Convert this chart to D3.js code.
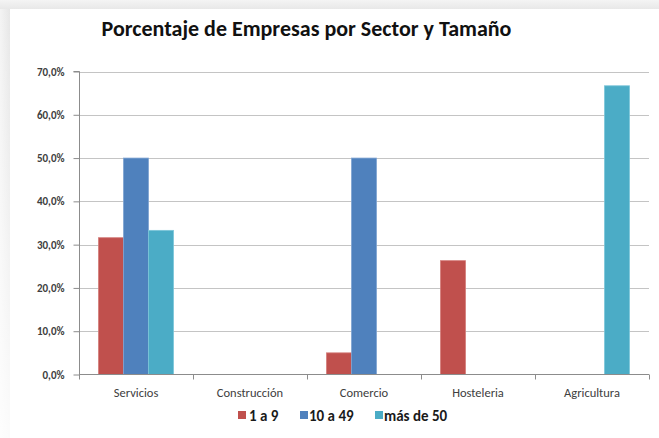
<!DOCTYPE html>
<html>
<head>
<meta charset="utf-8">
<script src="https://cdn.jsdelivr.net/npm/d3@7"></script>
<style>
  html, body { margin: 0; padding: 0; background: #fff; }
  svg { display: block; }
</style>
</head>
<body>
<svg id="chart" width="659" height="438"></svg>
<script>
// ---- Data ----
const categories = ["Servicios", "Construcción", "Comercio", "Hosteleria", "Agricultura"];
const seriesNames = ["1 a 9", "10 a 49", "más de 50"];
const values1a9 = [31.6, 0, 5.0, 26.3, 0];
const values10a49 = [50.0, 0, 50.0, 0, 0];
const valuesMas50 = [33.3, 0, 0, 0, 66.7];
const yTickValues = [0, 10, 20, 30, 40, 50, 60, 70];
const titleText = "Porcentaje de Empresas por Sector y Tamaño";

const seriesValues = [values1a9, values10a49, valuesMas50];
const colors = ["#C0504D", "#4F81BD", "#4BACC6"];
const strokes = ["#d47d7a", "#7ea3d2", "#7cc6d9"];

const svg = d3.select("#chart");
const W = 659, H = 438;
const fontFam = "Carlito, Calibri, Lato, 'Open Sans', sans-serif";

// ---- Background frame (shadow) ----
const defs = svg.append("defs");
const gL = defs.append("linearGradient").attr("id", "gl").attr("x1", 0).attr("x2", 1).attr("y1", 0).attr("y2", 0);
gL.append("stop").attr("offset", 0).attr("stop-color", "#f4f4f4");
gL.append("stop").attr("offset", 1).attr("stop-color", "#e6e6e6");
const gT = defs.append("linearGradient").attr("id", "gt").attr("x1", 0).attr("x2", 0).attr("y1", 0).attr("y2", 1);
gT.append("stop").attr("offset", 0).attr("stop-color", "#f4f4f4");
gT.append("stop").attr("offset", 1).attr("stop-color", "#e8e8e8");
const fadeV = defs.append("linearGradient").attr("id", "fv").attr("x1", 0).attr("x2", 0).attr("y1", 0).attr("y2", 1);
fadeV.append("stop").attr("offset", 0).attr("stop-color", "#fff").attr("stop-opacity", 0);
fadeV.append("stop").attr("offset", 1).attr("stop-color", "#fff").attr("stop-opacity", 0.85);

svg.append("rect").attr("x", 0).attr("y", 0).attr("width", W).attr("height", H).attr("fill", "#f6f6f6");
svg.append("rect").attr("x", 0).attr("y", 0).attr("width", 10).attr("height", H).attr("fill", "url(#gl)");
svg.append("rect").attr("x", 0).attr("y", 0).attr("width", W).attr("height", 9).attr("fill", "url(#gt)");
svg.append("rect").attr("x", 0).attr("y", 0).attr("width", 10).attr("height", H).attr("fill", "url(#fv)");
svg.append("rect").attr("x", 10).attr("y", 9).attr("width", W - 10).attr("height", H - 9).attr("fill", "#ffffff");

// ---- Scales ----
const x0 = d3.scaleBand().domain(categories).range([79, 649]).paddingInner(0).paddingOuter(0);
const x1 = d3.scaleBand().domain(seriesNames).range([0, x0.bandwidth()]).paddingInner(0).paddingOuter(0.78);
const y = d3.scaleLinear().domain([0, 70]).range([374.5, 71.5]);

// ---- Gridlines ----
svg.append("g")
  .selectAll("line")
  .data(yTickValues.filter(d => d > 0))
  .join("line")
  .attr("x1", 79).attr("x2", 649)
  .attr("y1", d => Math.round(y(d)) + 0.5).attr("y2", d => Math.round(y(d)) + 0.5)
  .attr("stroke", "#c4c4c4").attr("stroke-width", 1.2);

// ---- Bars ----
const barData = [];
categories.forEach((c, i) => {
  seriesNames.forEach((s, j) => {
    barData.push({ cat: c, series: s, j: j, value: seriesValues[j][i] });
  });
});
svg.append("g")
  .selectAll("rect")
  .data(barData.filter(d => d.value > 0))
  .join("rect")
  .attr("x", d => x0(d.cat) + x1(d.series))
  .attr("y", d => y(d.value))
  .attr("width", x1.bandwidth())
  .attr("height", d => y(0) - y(d.value))
  .attr("fill", d => colors[d.j])
  .attr("stroke", d => strokes[d.j])
  .attr("stroke-width", 0.8);

// ---- Y axis ----
const yAxis = d3.axisLeft(y)
  .tickValues(yTickValues)
  .tickSize(6)
  .tickPadding(9)
  .tickFormat(d => d.toFixed(1).replace(".", ",") + "%");
const gy = svg.append("g").attr("transform", "translate(79.5,0)").call(yAxis);
gy.select(".domain").attr("stroke", "#8c8c8c").attr("d", `M-6,${y(70)}H0V${y(0)}`);
gy.selectAll(".tick line").attr("stroke", "#8c8c8c");
gy.selectAll(".tick text")
  .attr("fill", "#404040")
  .style("font-family", fontFam)
  .style("font-size", "11px")
  .style("font-weight", "bold");

// ---- X axis ----
const xAxis = d3.axisBottom(x0).tickSize(0).tickPadding(14);
const gx = svg.append("g").attr("transform", "translate(0,374.5)").call(xAxis);
gx.select(".domain").attr("stroke", "#8c8c8c").attr("d", `M79,0H649`);
gx.selectAll(".tick text")
  .attr("fill", "#404040")
  .style("font-family", fontFam)
  .style("font-size", "12.5px");
// category boundary ticks
gx.append("g").selectAll("line")
  .data(categories.map(c => x0(c)).concat([x0.range()[1]]))
  .join("line")
  .attr("x1", d => Math.round(d) + 0.5).attr("x2", d => Math.round(d) + 0.5)
  .attr("y1", 0).attr("y2", 5)
  .attr("stroke", "#8c8c8c");

// ---- Title ----
const title = svg.append("text")
  .attr("x", 306.5).attr("y", 36)
  .attr("text-anchor", "middle")
  .attr("fill", "#111")
  .style("font-family", fontFam)
  .style("font-size", "20px")
  .style("font-weight", "600")
  .text(titleText);
const tw = title.node().getComputedTextLength();
if (tw > 0) title.style("font-size", (20 * 410 / tw) + "px");

// ---- Legend ----
const legendItems = [
  { name: seriesNames[0], color: colors[0], sx: 238, tx: 249 },
  { name: seriesNames[1], color: colors[1], sx: 300, tx: 309 },
  { name: seriesNames[2], color: colors[2], sx: 375, tx: 384 }
];
const lg = svg.append("g");
legendItems.forEach(it => {
  lg.append("rect").attr("x", it.sx).attr("y", 411).attr("width", 8).attr("height", 8).attr("fill", it.color);
  lg.append("text").attr("x", it.tx).attr("y", 420.5)
    .attr("fill", "#1a1a1a")
    .style("font-family", fontFam)
    .style("font-size", "15px")
    .style("font-weight", "600")
    .text(it.name);
});
</script>
</body>
</html>
